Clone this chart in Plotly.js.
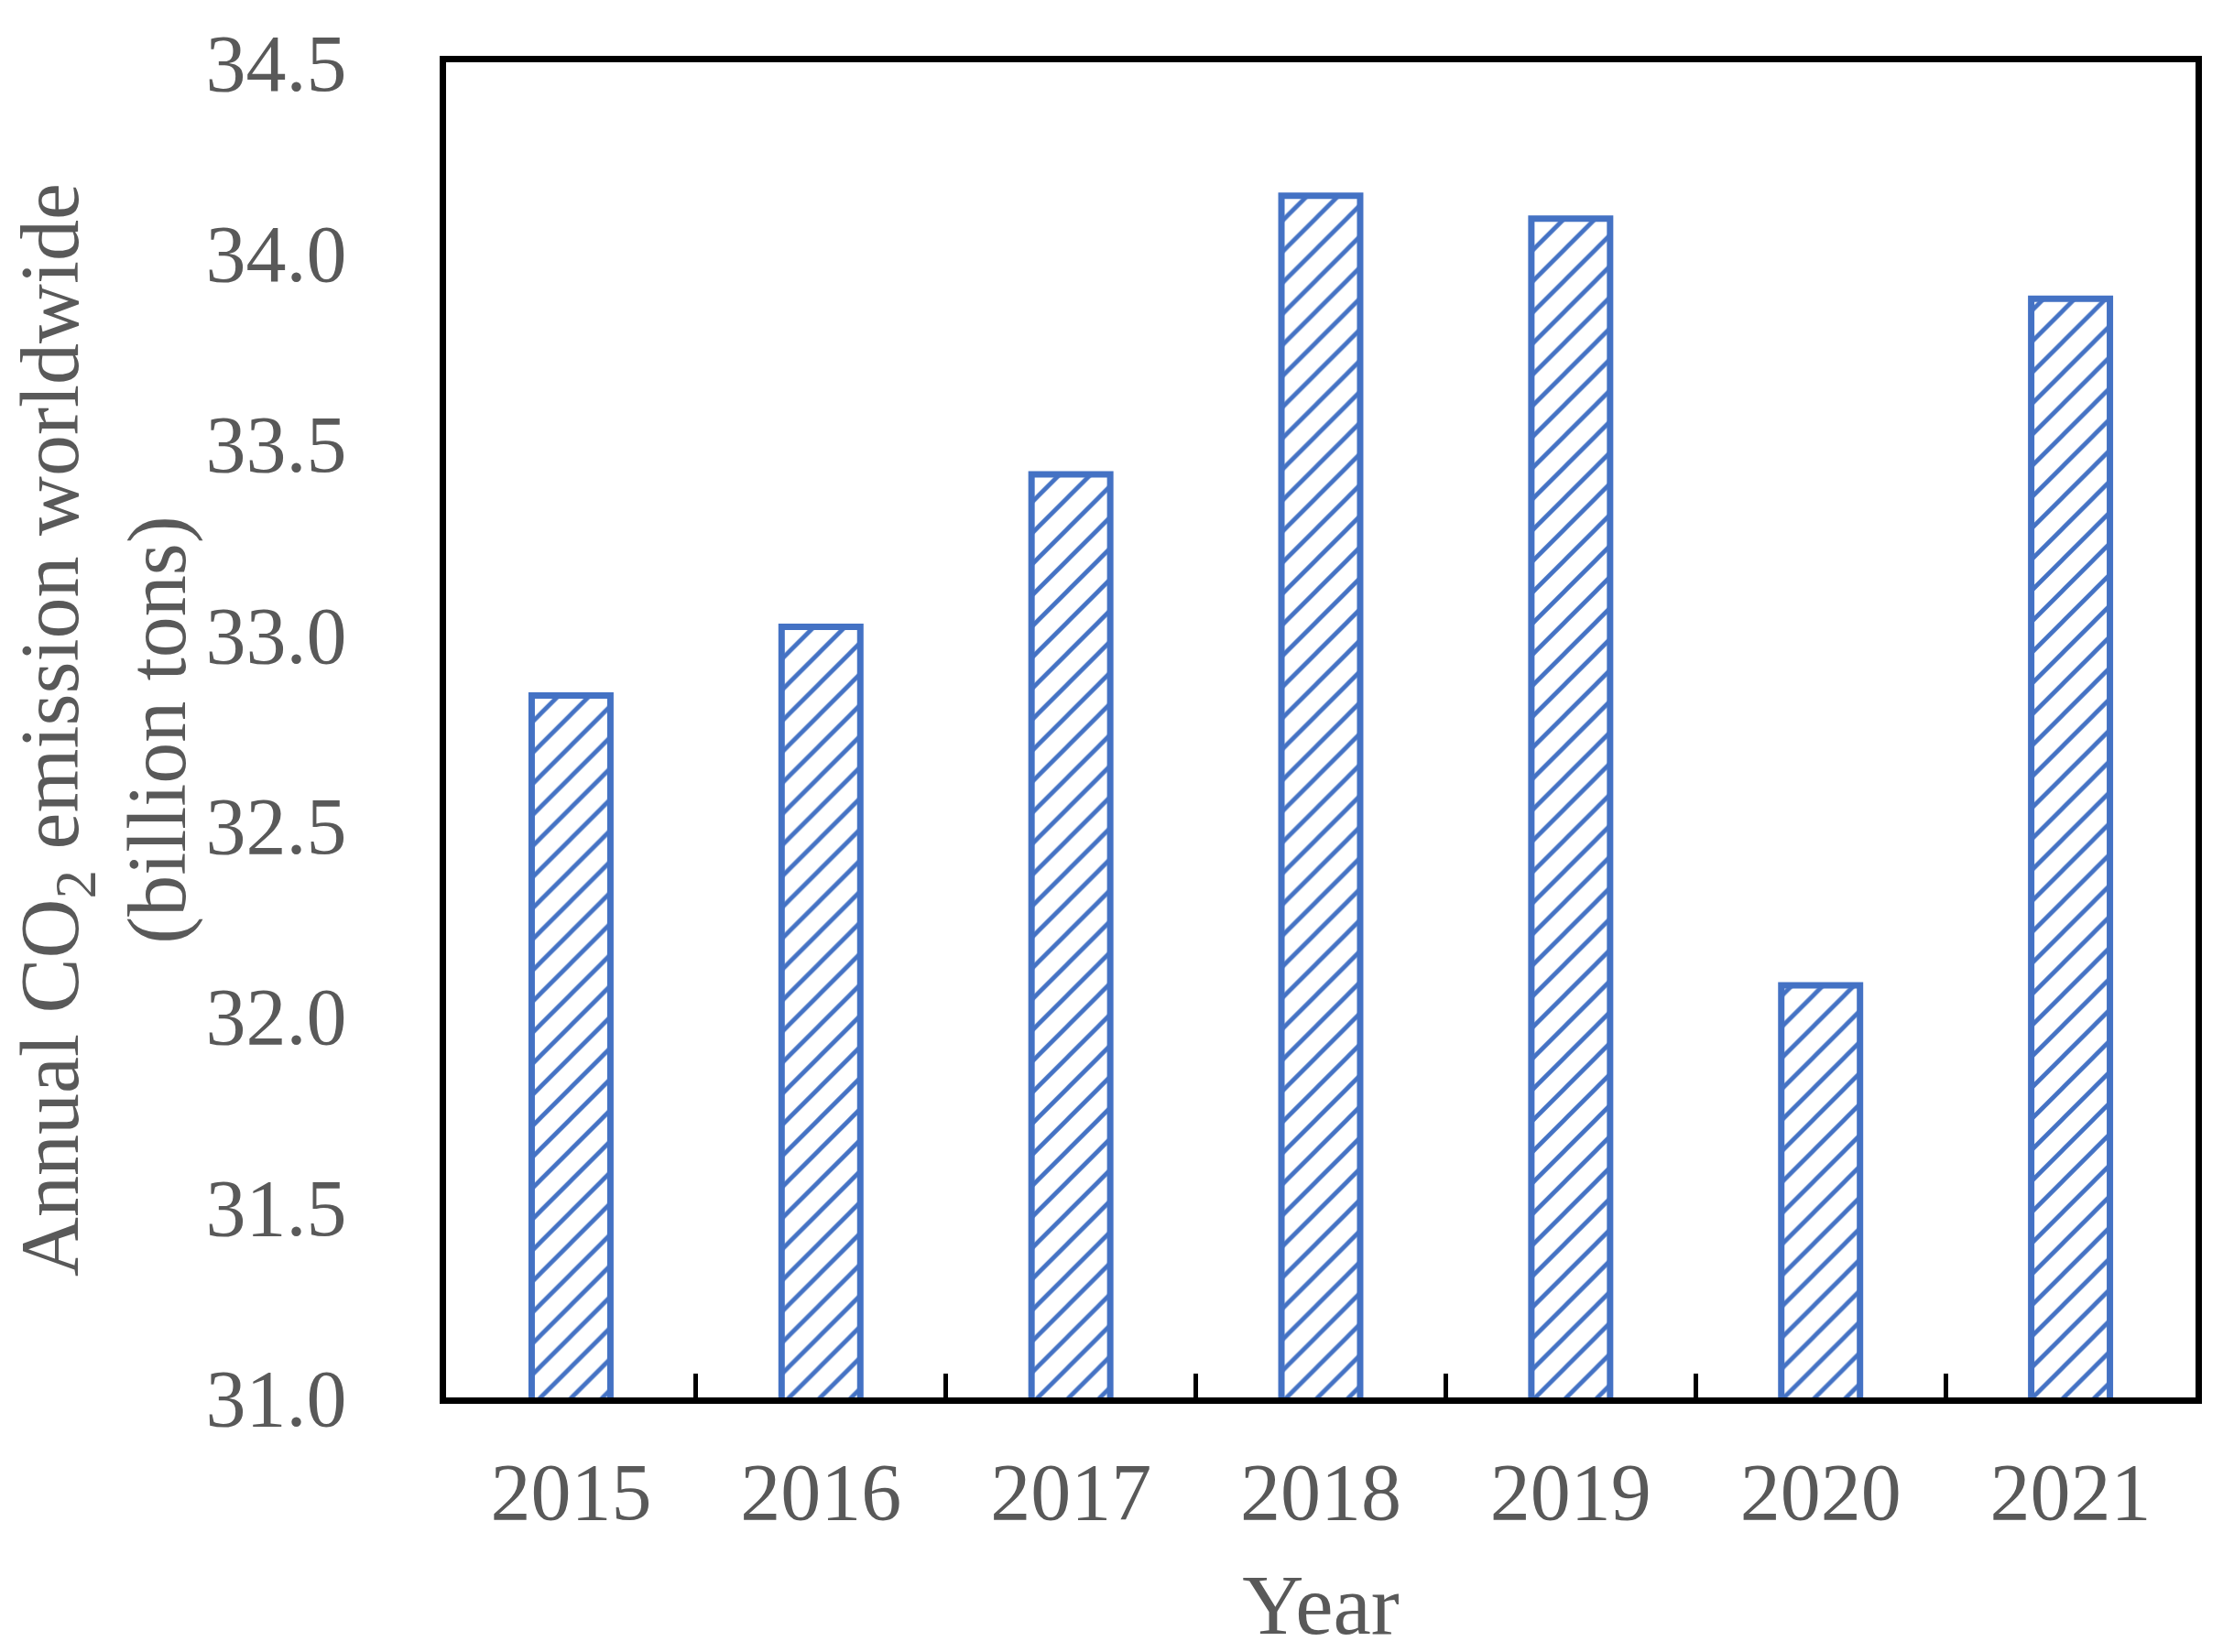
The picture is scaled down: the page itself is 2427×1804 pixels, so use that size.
<!DOCTYPE html>
<html>
<head>
<meta charset="utf-8">
<script src="https://cdn.plot.ly/plotly-3.0.1.min.js"></script>
<style>html,body{margin:0;padding:0;background:#fff;}#chart{width:2427px;height:1804px;}</style>
</head>
<body>
<div id="chart"></div>
<script>
const years = ["2015", "2016", "2017", "2018", "2019", "2020", "2021"];
const emissions = [32.84, 33.02, 33.42, 34.15, 34.09, 32.08, 33.88];
const yTickValues = [31.0, 31.5, 32.0, 32.5, 33.0, 33.5, 34.0, 34.5];
const yTickLabels = ["31.0", "31.5", "32.0", "32.5", "33.0", "33.5", "34.0", "34.5"];

const fontFamily = "'Liberation Serif', 'Times New Roman', serif";
const textColor = "#595959";
const barBlue = "#4472C4";

const trace = {
  type: "bar",
  x: years,
  y: emissions,
  width: 0.315,
  marker: {
    color: "#ffffff",
    line: { color: barBlue, width: 7 },
    pattern: { shape: "/", fgcolor: barBlue, bgcolor: "#ffffff", size: 24, solidity: 0.2 }
  },
  hoverinfo: "skip"
};

const layout = {
  width: 2427,
  height: 1804,
  paper_bgcolor: "#ffffff",
  plot_bgcolor: "#ffffff",
  margin: { l: 487, r: 30, t: 68, b: 278 },
  showlegend: false,
  font: { family: fontFamily, color: textColor, size: 88 },
  xaxis: {
    type: "category",
    showline: true, mirror: true, linecolor: "#000000", linewidth: 7,
    ticks: "inside", tickson: "boundaries", ticklen: 26, tickwidth: 5, tickcolor: "#000000",
    ticklabelstandoff: 20,
    tickfont: { family: fontFamily, color: textColor, size: 88 },
    showgrid: false, zeroline: false,
    title: { text: "Year", font: { family: fontFamily, color: textColor, size: 93 } },
    automargin: false
  },
  yaxis: {
    range: [31.0, 34.5],
    tickvals: yTickValues,
    ticktext: yTickLabels,
    showline: true, mirror: true, linecolor: "#000000", linewidth: 7,
    ticks: "",
    ticklabelstandoff: 84,
    tickfont: { family: fontFamily, color: textColor, size: 88 },
    showgrid: false, zeroline: false,
    title: { text: "Annual CO<sub>2</sub> emission worldwide<br>(billion tons)", font: { family: fontFamily, color: textColor, size: 90 } },
    automargin: false
  }
};

Plotly.newPlot("chart", [trace], layout, { displayModeBar: false, staticPlot: true });
</script>
</body>
</html>
